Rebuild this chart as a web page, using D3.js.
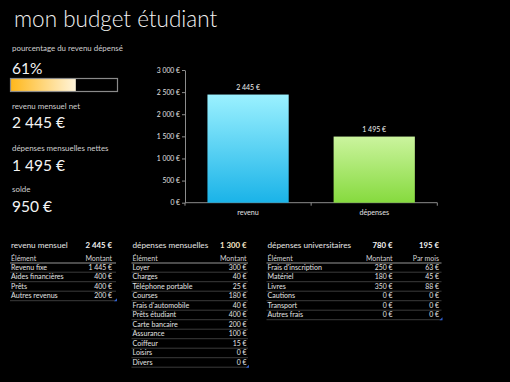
<!DOCTYPE html>
<html><head><meta charset="utf-8">
<script src="https://cdn.jsdelivr.net/npm/d3@7"></script>
<style>
html,body{margin:0;padding:0;background:#000;}
svg{display:block;font-family:Lato,"Open Sans",sans-serif;}
</style></head>
<body>
<svg id="c" width="510" height="382"></svg>
<script>
// ---- data ----
const title = "mon budget étudiant";
const categories = ["revenu", "dépenses"];
const totals = [2445, 1495];
const yTicks = [0, 500, 1000, 1500, 2000, 2500, 3000];

const incomeItems = ["Revenu fixe", "Aides financières", "Prêts", "Autres revenus"];
const incomeValues = [1445, 400, 400, 200];

const expenseItems = ["Loyer", "Charges", "Téléphone portable", "Courses", "Frais d'automobile", "Prêts étudiant", "Carte bancaire", "Assurance", "Coiffeur", "Loisirs", "Divers"];
const expenseValues = [300, 40, 25, 180, 40, 400, 200, 100, 15, 0, 0];

const uniItems = ["Frais d'inscription", "Matériel", "Livres", "Cautions", "Transport", "Autres frais"];
const uniValues = [250, 180, 350, 0, 0, 0];
const uniMonthly = [63, 45, 88, 0, 0, 0];
const uniMonthlyTotal = 195;

// ---- helpers ----
const loc = d3.formatLocale({decimal: ",", thousands: "\u00a0", grouping: [3], currency: ["", "\u00a0€"]});
const eur = loc.format("$,.0f");
const svg = d3.select("#c");
const defs = svg.append("defs");

function grad(id, c0, c1, vertical) {
  const g = defs.append("linearGradient").attr("id", id)
    .attr("x1", 0).attr("y1", 0).attr("x2", vertical ? 0 : 1).attr("y2", vertical ? 1 : 0);
  g.append("stop").attr("offset", "0%").attr("stop-color", c0);
  g.append("stop").attr("offset", "100%").attr("stop-color", c1);
}
grad("gRev", "#9BF1FF", "#1AB3E8", true);
grad("gDep", "#CBF49E", "#86DA3E", true);
grad("gPct", "#FFB81C", "#FFF4DA", false);

// ---- title ----
svg.append("text").attr("x", 14).attr("y", 27).attr("fill", "#f2f2f2")
  .attr("font-size", 22.5).attr("font-weight", 300).text(title);

// ---- left KPI panel ----
const pct = totals[1] / totals[0];
const lbl = (y, t) => svg.append("text").attr("x", 12).attr("y", y).attr("fill", "#d0d0d0").attr("font-size", 7.9).text(t);
const big = (y, t) => svg.append("text").attr("x", 12).attr("y", y).attr("fill", "#f4f4f4").attr("font-size", 15.5).text(t);

lbl(51, "pourcentage du revenu dépensé");
big(74, Math.round(pct * 100) + "%");
const pbX = d3.scaleLinear().domain([0, 1]).range([11, 117]);
svg.append("rect").attr("x", pbX(0)).attr("y", 79).attr("width", pbX(pct) - pbX(0)).attr("height", 12).attr("fill", "url(#gPct)");
svg.append("rect").attr("x", 10.5).attr("y", 78.5).attr("width", 107).attr("height", 13).attr("fill", "none").attr("stroke", "#8a8a8a").attr("stroke-width", 1.2);

lbl(109, "revenu mensuel net");
big(128, eur(totals[0]));
lbl(151, "dépenses mensuelles nettes");
big(170.5, eur(totals[1]));
lbl(192, "solde");
big(211.5, eur(totals[0] - totals[1]));

// ---- bar chart ----
const y = d3.scaleLinear().domain([0, 3000]).range([202.7, 70]);
const x = d3.scaleBand().domain(categories).range([185, 437.3]).paddingInner(0.356).paddingOuter(0.178);
const axisCol = "#8c8c8c";

const ya = svg.append("g").attr("transform", "translate(185,0)")
  .call(d3.axisLeft(y).tickValues(yTicks).tickSize(3).tickSizeOuter(0).tickFormat(eur));
ya.select(".domain").attr("stroke", axisCol);
ya.selectAll(".tick line").attr("stroke", axisCol);
ya.selectAll(".tick text").attr("fill", "#e0e0e0").attr("font-size", 6.8).attr("font-family", "Lato,sans-serif").attr("x", -5);

const xa = svg.append("g").attr("transform", "translate(0,202.7)");
xa.append("line").attr("x1", 185).attr("x2", 437.3).attr("stroke", axisCol);
const bounds = [x.range()[0]].concat(categories.map(c => x(c) + x.bandwidth() + x.step() * x.paddingInner() / 2));
bounds[bounds.length - 1] = x.range()[1];
xa.selectAll("line.tk").data(bounds).join("line").attr("class", "tk")
  .attr("x1", d => d).attr("x2", d => d).attr("y1", 0).attr("y2", 3).attr("stroke", axisCol);
xa.selectAll("text").data(categories).join("text")
  .attr("x", d => x(d) + x.bandwidth() / 2).attr("y", 12).attr("text-anchor", "middle")
  .attr("fill", "#e0e0e0").attr("font-size", 7.2).text(d => d);

svg.selectAll("rect.bar").data(categories).join("rect").attr("class", "bar")
  .attr("x", d => x(d)).attr("width", x.bandwidth())
  .attr("y", (d, i) => y(totals[i])).attr("height", (d, i) => y(0) - y(totals[i]))
  .attr("fill", (d, i) => i === 0 ? "url(#gRev)" : "url(#gDep)");
svg.selectAll("text.val").data(categories).join("text").attr("class", "val")
  .attr("x", d => x(d) + x.bandwidth() / 2).attr("y", (d, i) => y(totals[i]) - 5)
  .attr("text-anchor", "middle").attr("fill", "#f0f0f0").attr("font-size", 7)
  .text((d, i) => eur(totals[i]));

// ---- tables ----
function table(opts) {
  const g = svg.append("g");
  const {x0, x1, cols, headers, titleText, titleVals, names, valueCols} = opts;
  const top = 247.5, hdrY = 260.5, rowH = 9.5, firstRow = 269.5;
  g.append("text").attr("x", x0 + 1).attr("y", top).attr("fill", "#e6e6e6").attr("font-size", 8.2).text(titleText);
  titleVals.forEach((v, i) => g.append("text").attr("x", cols[i]).attr("y", top).attr("text-anchor", "end")
    .attr("fill", opts.titleColor || "#f4f4f4").attr("font-size", 7.8).attr("font-weight", 700).text(v));
  g.append("text").attr("x", x0 + 1).attr("y", hdrY).attr("fill", "#d4d4d4").attr("font-size", 7).text("Élément");
  headers.forEach((h, i) => g.append("text").attr("x", cols[i]).attr("y", hdrY).attr("text-anchor", "end")
    .attr("fill", "#d4d4d4").attr("font-size", 7).text(h));
  g.append("line").attr("x1", x0).attr("x2", x1).attr("y1", hdrY + 2.5).attr("y2", hdrY + 2.5).attr("stroke", "#bdbdbd").attr("stroke-width", 0.8);
  names.forEach((n, r) => {
    const yy = firstRow + r * rowH;
    g.append("text").attr("x", x0 + 1).attr("y", yy).attr("fill", "#e2e2e2").attr("font-size", 7.1).text(n);
    valueCols.forEach((vals, i) => g.append("text").attr("x", cols[i]).attr("y", yy).attr("text-anchor", "end")
      .attr("fill", "#e2e2e2").attr("font-size", 6.9).text(eur(vals[r])));
    g.append("line").attr("x1", x0).attr("x2", x1).attr("y1", yy + 2.7).attr("y2", yy + 2.7).attr("stroke", "#4a4a4a").attr("stroke-width", 0.8);
  });
  const by = firstRow + (names.length - 1) * rowH + 2.7;
  g.append("path").attr("d", `M${x1 + 1},${by - 2.5} L${x1 + 1},${by + 0.5} L${x1 - 2},${by + 0.5} Z`).attr("fill", "#2f5fd0");
}

table({x0: 10, x1: 116, cols: [112], headers: ["Montant"], titleText: "revenu mensuel",
  titleVals: [eur(d3.sum(incomeValues))], names: incomeItems, valueCols: [incomeValues]});
table({x0: 131.5, x1: 248, cols: [246.5], headers: ["Montant"], titleText: "dépenses mensuelles",
  titleVals: [eur(d3.sum(expenseValues))], names: expenseItems, valueCols: [expenseValues], titleColor: "#f7e7c6"});
table({x0: 266.5, x1: 441.5, cols: [392.5, 439], headers: ["Montant", "Par mois"], titleText: "dépenses universitaires",
  titleVals: [eur(d3.sum(uniValues)), eur(uniMonthlyTotal)], names: uniItems, valueCols: [uniValues, uniMonthly]});
</script>
</body></html>
